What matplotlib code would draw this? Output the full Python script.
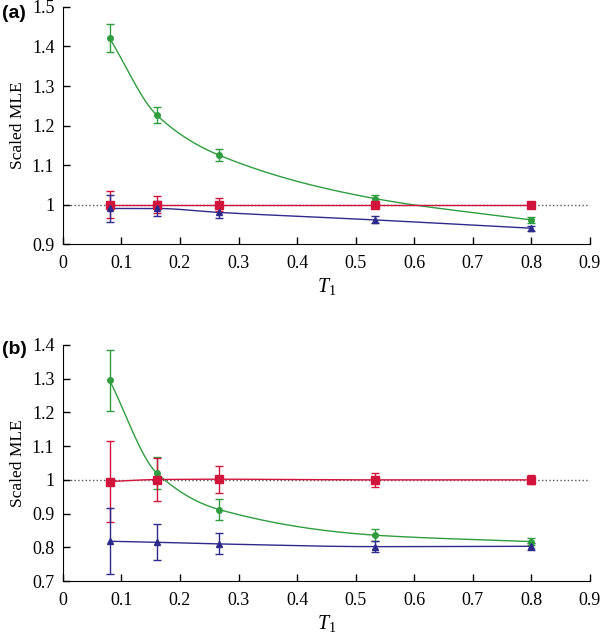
import numpy as np
import matplotlib
matplotlib.use('Agg')
import matplotlib.pyplot as plt

plt.rcParams['font.family'] = ['Liberation Serif', 'DejaVu Serif']
plt.rcParams['mathtext.fontset'] = 'custom'
plt.rcParams['mathtext.it'] = 'Liberation Serif:italic'
plt.rcParams['mathtext.rm'] = 'Liberation Serif'

# T1 values shared by both panels
t1 = [0.08, 0.16, 0.2667, 0.5333, 0.8]

# panel (a)
a_green = [1.421, 1.227, 1.125, 1.015, 0.961]
a_green_err = [0.035, 0.020, 0.015, 0.009, 0.007]
a_red = [1.000, 1.000, 1.000, 1.000, 1.000]
a_red_err = [0.035, 0.022, 0.016, 0.010, 0.007]
a_blue = [0.990, 0.990, 0.980, 0.961, 0.940]
a_blue_err = [0.033, 0.020, 0.015, 0.009, 0.006]

# panel (b)
b_green = [1.295, 1.021, 0.912, 0.836, 0.817]
b_green_err = [0.090, 0.047, 0.030, 0.017, 0.010]
b_red = [0.995, 1.001, 1.002, 1.000, 1.000]
b_red_err = [0.120, 0.065, 0.040, 0.020, 0.013]
b_blue = [0.818, 0.815, 0.810, 0.802, 0.803]
b_blue_err = [0.098, 0.053, 0.031, 0.016, 0.010]

GREEN = '#2f9d3f'
RED = '#d2143c'
BLUE = '#2e2a8c'


def pchip(x, y, xs):
    # monotone cubic hermite, used only to draw the smooth connecting line
    x = np.asarray(x, float)
    y = np.asarray(y, float)
    h = np.diff(x)
    d = np.diff(y) / h
    m = np.zeros_like(y)
    for k in range(1, len(x) - 1):
        if d[k - 1] * d[k] > 0:
            w1 = 2 * h[k] + h[k - 1]
            w2 = h[k] + 2 * h[k - 1]
            m[k] = (w1 + w2) / (w1 / d[k - 1] + w2 / d[k])
    m[0] = d[0]
    m[-1] = d[-1]
    idx = np.clip(np.searchsorted(x, xs) - 1, 0, len(x) - 2)
    t = (xs - x[idx]) / h[idx]
    h00 = 2 * t**3 - 3 * t**2 + 1
    h10 = t**3 - 2 * t**2 + t
    h01 = -2 * t**3 + 3 * t**2
    h11 = t**3 - t**2
    return (h00 * y[idx] + h10 * h[idx] * m[idx]
            + h01 * y[idx + 1] + h11 * h[idx] * m[idx + 1])


def panel(ax, series, ylim, yticks, ylabels):
    ax.plot([0, 0.9], [1, 1], ':', color='#555555', lw=1.0, zorder=1)
    xs = np.linspace(t1[0], t1[-1], 300)
    for y, err, col, mk, ms in series:
        ax.plot(xs, pchip(t1, y, xs), color=col, lw=1.0, zorder=2)
        ax.errorbar(t1, y, yerr=err, fmt=mk, color=col, ms=ms,
                    elinewidth=1.0, capsize=3, capthick=1.0, zorder=3)
    ax.set_xlim(0, 0.9)
    ax.set_ylim(*ylim)
    ax.set_xticks(np.arange(0, 0.91, 0.1))
    ax.set_xticklabels(['0', '0.1', '0.2', '0.3', '0.4', '0.5',
                        '0.6', '0.7', '0.8', '0.9'])
    ax.set_yticks(yticks)
    ax.set_yticklabels(ylabels)
    ax.spines['top'].set_visible(False)
    ax.spines['right'].set_visible(False)
    ax.tick_params(direction='in', length=5, width=1.0, labelsize=13)
    ax.tick_params(axis='x', pad=8)
    ax.tick_params(axis='y', pad=6)
    ax.set_ylabel('Scaled MLE', fontsize=12.5, labelpad=4)
    ax.set_xlabel(r'$T_{\mathit{1}}$', fontsize=14.5, labelpad=3)


fig = plt.figure(figsize=(6, 6.35), dpi=100)
ax1 = fig.add_axes([0.1047, 0.6157, 0.8786, 0.3733])
ax2 = fig.add_axes([0.1047, 0.085, 0.8786, 0.3717])

panel(ax1, [(a_green, a_green_err, GREEN, 'o', 4),
            (a_red, a_red_err, RED, 's', 5.5),
            (a_blue, a_blue_err, BLUE, '^', 5)],
      (0.9, 1.5), [0.9, 1.0, 1.1, 1.2, 1.3, 1.4, 1.5],
      ['0.9', '1', '1.1', '1.2', '1.3', '1.4', '1.5'])
panel(ax2, [(b_green, b_green_err, GREEN, 'o', 4),
            (b_red, b_red_err, RED, 's', 5.5),
            (b_blue, b_blue_err, BLUE, '^', 5)],
      (0.7, 1.4), [0.7, 0.8, 0.9, 1.0, 1.1, 1.2, 1.3, 1.4],
      ['0.7', '0.8', '0.9', '1', '1.1', '1.2', '1.3', '1.4'])

fig.text(0.003, 0.992, '(a)', fontsize=14, fontweight='bold',
         family='Liberation Sans', va='top')
fig.text(0.003, 0.463, '(b)', fontsize=14, fontweight='bold',
         family='Liberation Sans', va='top')

fig.savefig('out.png', dpi=100)
